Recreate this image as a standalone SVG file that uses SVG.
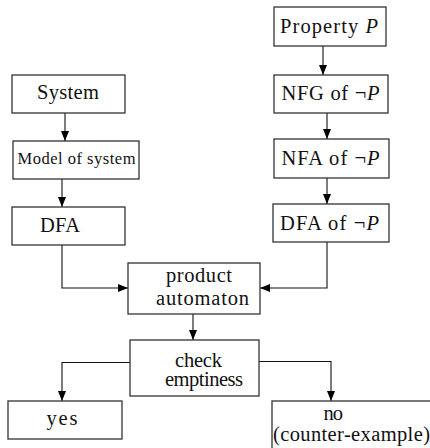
<svg xmlns="http://www.w3.org/2000/svg" width="430" height="448" viewBox="0 0 430 448">
<style>
.box{fill:#fff;stroke:#333;stroke-width:1.3}
.t{font-family:"Liberation Serif","Times New Roman",serif;font-size:20.5px;fill:#111}
.s{font-size:16.5px}
.i{font-style:italic}
.c{fill:none;stroke:#111;stroke-width:1.1}
</style>
<defs>
<marker id="ah" viewBox="0 0 10 8" refX="10" refY="4" markerWidth="10" markerHeight="8" markerUnits="userSpaceOnUse" orient="auto">
<path d="M0,0 L10,4 L0,8 Z" fill="#000"/>
</marker>
</defs>
<rect width="430" height="448" fill="#fff"/>
<g id="connectors">
<path class="c" d="M65,113 V141" marker-end="url(#ah)"/>
<path class="c" d="M62,179 V207" marker-end="url(#ah)"/>
<path class="c" d="M62,245 V288 H128" marker-end="url(#ah)"/>
<path class="c" d="M323,46 V75" marker-end="url(#ah)"/>
<path class="c" d="M327,113 V139" marker-end="url(#ah)"/>
<path class="c" d="M327,178 V204" marker-end="url(#ah)"/>
<path class="c" d="M327,242 V288 H260" marker-end="url(#ah)"/>
<path class="c" d="M193,314 V340" marker-end="url(#ah)"/>
<path class="c" d="M130,362.5 H62 V401" marker-end="url(#ah)"/>
<path class="c" d="M259,361.5 H331 V401" marker-end="url(#ah)"/>
</g>
<g id="system"><rect class="box" x="12" y="75" width="113" height="38"/><text class="t" x="37" y="99" textLength="62" lengthAdjust="spacing">System</text></g>
<g id="model"><rect class="box" x="13" y="141" width="126" height="38"/><text class="t s" x="17.5" y="164" textLength="118" lengthAdjust="spacing">Model of system</text></g>
<g id="dfa"><rect class="box" x="12" y="207" width="113" height="38"/><text class="t" x="40" y="232" textLength="40" lengthAdjust="spacing">DFA</text></g>
<g id="property"><rect class="box" x="274" y="7" width="112" height="39"/><text class="t" x="280" y="32.5" textLength="98" lengthAdjust="spacing">Property <tspan class="i">P</tspan></text></g>
<g id="nfg"><rect class="box" x="274" y="75" width="114" height="38"/><text class="t" x="281.5" y="100" textLength="98" lengthAdjust="spacing">NFG of ¬<tspan class="i">P</tspan></text></g>
<g id="nfa"><rect class="box" x="274" y="139" width="115" height="39"/><text class="t" x="281.5" y="165" textLength="98" lengthAdjust="spacing">NFA of ¬<tspan class="i">P</tspan></text></g>
<g id="dfanp"><rect class="box" x="273" y="204" width="116" height="38"/><text class="t" x="280" y="230" textLength="99" lengthAdjust="spacing">DFA of ¬<tspan class="i">P</tspan></text></g>
<g id="product"><rect class="box" x="128" y="263" width="132" height="51"/><text class="t" x="166" y="282" textLength="66" lengthAdjust="spacing">product</text><text class="t" x="156" y="305" textLength="93" lengthAdjust="spacing">automaton</text></g>
<g id="check"><rect class="box" x="130" y="340" width="129" height="56"/><text class="t" x="175" y="367" textLength="47" lengthAdjust="spacing">check</text><text class="t" x="165" y="386" textLength="78" lengthAdjust="spacing">emptiness</text></g>
<g id="yes"><rect class="box" x="8" y="401" width="114" height="38"/><text class="t" x="46.5" y="425" textLength="31" lengthAdjust="spacing">yes</text></g>
<g id="no"><rect class="box" x="272" y="401" width="170" height="60"/><text class="t" x="323.5" y="420" textLength="19.5" lengthAdjust="spacing">no</text><text class="t" x="273" y="441" textLength="157" lengthAdjust="spacing">(counter-example)</text></g>
</svg>
